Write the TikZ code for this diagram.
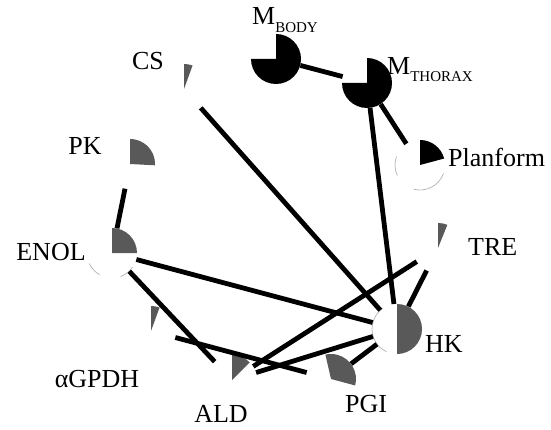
\documentclass[tikz,border=0pt]{standalone}
\usepackage{fontspec}
\setmainfont{Liberation Serif}
\begin{document}
\begin{tikzpicture}[x=1pt,y=1pt,
  pienode/.style={circle,minimum size=50pt,inner sep=0pt},
  edge/.style={line width=4.8pt},
  lbl/.style={font=\fontsize{26}{26}\selectfont,inner sep=0pt},
  darkfill/.style={fill=black},
  grayfill/.style={fill=black!65},
  faint/.style={draw=black!30,line width=0.7pt}]
\useasboundingbox (0,0) rectangle (551,429);
% nodes (pie glyphs)
\node[pienode] (mb)  at (276,370) {};
\node[pienode] (mt)  at (367,346) {};
\node[pienode] (pf)  at (420,264) {};
\node[pienode] (cs)  at (184,340) {};
\node[pienode] (pk)  at (130,265) {};
\node[pienode] (en)  at (112,176) {};
\node[pienode] (tre) at (438,181) {};
\node[pienode] (hk)  at (397,100) {};
\node[pienode] (ag)  at (151,98) {};
\node[pienode] (ald) at (232,49) {};
\node[pienode] (pgi) at (331,50) {};
% sectors
\fill[darkfill] (mb.center) -- ++(180:25) arc[start angle=180,end angle=450,radius=25] -- cycle;
\fill[darkfill] (mt.center) -- ++(180:25) arc[start angle=180,end angle=450,radius=25] -- cycle;
\fill[darkfill] (pf.center) -- ++(15:25) arc[start angle=15,end angle=90,radius=25] -- cycle;
\fill[grayfill] (cs.center) -- ++(70:25) arc[start angle=70,end angle=90,radius=25] -- cycle;
\fill[grayfill] (pk.center) -- ++(-3:25) arc[start angle=-3,end angle=90,radius=25] -- cycle;
\fill[grayfill] (en.center) -- ++(0:25) arc[start angle=0,end angle=90,radius=25] -- cycle;
\fill[grayfill] (tre.center) -- ++(68:25) arc[start angle=68,end angle=90,radius=25] -- cycle;
\fill[grayfill] (hk.center) -- ++(-90:25) arc[start angle=-90,end angle=90,radius=25] -- cycle;
\fill[grayfill] (ag.center) -- ++(70:25) arc[start angle=70,end angle=90,radius=25] -- cycle;
\fill[grayfill] (ald.center) -- ++(45:25) arc[start angle=45,end angle=90,radius=25] -- cycle;
\fill[grayfill] (pgi.center) -- ++(-15:25) arc[start angle=-15,end angle=103,radius=25] -- cycle;
% faint outlines of white parts
\draw[faint] (pf.center) ++(160:25) arc[start angle=160,end angle=205,radius=25];
\draw[faint] (pf.center) ++(255:25) arc[start angle=255,end angle=340,radius=25];
\draw[faint] (en.center) ++(205:25) arc[start angle=205,end angle=240,radius=25];
\draw[faint] (en.center) ++(290:25) arc[start angle=290,end angle=325,radius=25];
\draw[faint] (hk.center) ++(125:25) arc[start angle=125,end angle=245,radius=25];
% edges
\draw[edge] (mb) -- (mt);
\draw[edge] (mt) -- (pf);
\draw[edge] (mt) -- (hk);
\draw[edge] (cs) -- (hk);
\draw[edge] (pk) -- (en);
\draw[edge] (en) -- (hk);
\draw[edge] (en) -- (ald);
\draw[edge] (ag) -- (pgi);
\draw[edge] (tre) -- (ald);
\draw[edge] (tre) -- (hk);
\draw[edge] (hk) -- (ald);
\draw[edge] (pgi) -- (hk);
% labels
\node[lbl,anchor=base west] (mbl) at (252,404) {M\raisebox{-8pt}{\fontsize{15}{15}\selectfont BODY}};
\node[lbl,anchor=base west] (mtl) at (387,354) {M\raisebox{-7pt}{\fontsize{15}{15}\selectfont THORAX}};
\node[lbl,anchor=base west] (pfl) at (448,262) {Planform};
\node[lbl,anchor=base] (csl) at (148,359) {CS};
\node[lbl,anchor=base] (pkl) at (85,274) {PK};
\node[lbl,anchor=base] (enl) at (51,169) {ENOL};
\node[lbl,anchor=base west] (trel) at (468,174) {TRE};
\node[lbl,anchor=base west] (hkl) at (425,77) {HK};
\node[lbl,anchor=base] (agl) at (97,42) {αGPDH};
\node[lbl,anchor=base] (aldl) at (221,7) {ALD};
\node[lbl,anchor=base] (pgil) at (366,17) {PGI};
\end{tikzpicture}
\end{document}
